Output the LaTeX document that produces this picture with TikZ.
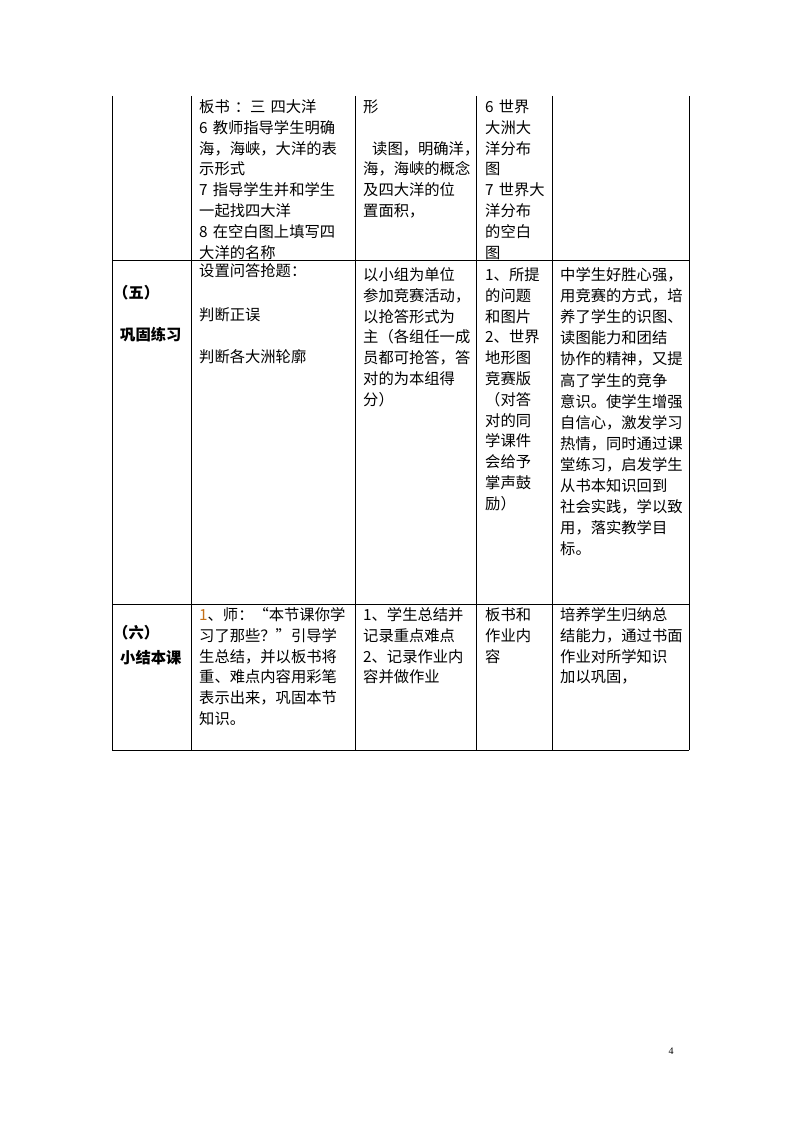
\documentclass[tikz,border=0pt]{standalone}
\usepackage{fontspec}
\setmainfont{Noto Sans CJK SC}
\newfontfamily\pagefont{Liberation Serif}
\definecolor{numone}{RGB}{196,112,24}

\begin{document}
\begin{tikzpicture}[x=1pt, y=-1pt]
\tikzset{cell/.style = {anchor=base west, inner sep=0pt, text width=#1, align=left, font=\fontsize{15.3}{20.8}\selectfont}}
\tikzset{head/.style = {anchor=base west, inner sep=0pt, font=\fontsize{15.3}{20.8}\selectfont\bfseries}}
\tikzset{rule/.style = {black, line width=1pt}}
\useasboundingbox (0,0) rectangle (794,1123);

% the table lines
\foreach \x in {112,191,355,476,552,689}
  \draw[rule] (\x,96) -- (\x,750);
\foreach \y in {260,604,750}
  \draw[rule] (112,\y) -- (689,\y);

% row carried over from the last page
\node[cell=150pt] (rA2) at (199,112.5) {板书 ：三 四大洋\\6 教师指导学生明确\\海，海峡，大洋的表\\示形式\\7 指导学生并和学生\\一起找四大洋\\8 在空白图上填写四\\大洋的名称};
\node[cell=110pt] (rA3) at (363,112.5) {形\\ \mbox{}\\\hspace*{9pt}读图，明确洋，\\海，海峡的概念\\及四大洋的位\\置面积，};
\node[cell=70pt] (rA4) at (485,112.5) {6 世界\\大洲大\\洋分布\\图\\7 世界大\\洋分布\\的空白\\图};

% (five)
\node[head] (rB1a) at (113,298.5) {（五）};
\node[head] (rB1b) at (120,340.5) {巩固练习};
\node[cell=150pt] (rB2a) at (199,276.5) {设置问答抢题：};
\node[cell=150pt] (rB2b) at (199,320.5) {判断正误};
\node[cell=150pt] (rB2c) at (199,362.5) {判断各大洲轮廓};
\node[cell=110pt] (rB3) at (363,280.5) {以小组为单位\\参加竞赛活动，\\以抢答形式为\\主（各组任一成\\员都可抢答，答\\对的为本组得\\分）};
\node[cell=70pt] (rB4) at (485,280.5) {1、所提\\的问题\\和图片\\2、世界\\地形图\\竞赛版\\（对答\\对的同\\学课件\\会给予\\掌声鼓\\励）};
\node[cell=128pt, font=\fontsize{15.3}{21.1}\selectfont] (rB5) at (560,280.5) {中学生好胜心强，\\用竞赛的方式，培\\养了学生的识图、\\读图能力和团结\\协作的精神，又提\\高了学生的竞争\\意识。使学生增强\\自信心，激发学习\\热情，同时通过课\\堂练习，启发学生\\从书本知识回到\\社会实践，学以致\\用，落实教学目\\标。};

% (six)
\node[head] (rC1a) at (113,638.5) {（六）};
\node[head] (rC1b) at (120,663.5) {小结本课};
\node[cell=150pt] (rC2) at (199,620.5) {{\color{numone}1}、师：“本节课你学\\习了那些？”引导学\\生总结，并以板书将\\重、难点内容用彩笔\\表示出来，巩固本节\\知识。};
\node[cell=110pt] (rC3) at (363,620.5) {1、学生总结并\\记录重点难点\\2、记录作业内\\容并做作业};
\node[cell=70pt] (rC4) at (485,620.5) {板书和\\作业内\\容};
\node[cell=128pt] (rC5) at (560,620.5) {培养学生归纳总\\结能力，通过书面\\作业对所学知识\\加以巩固，};

% page number
\node[anchor=base, inner sep=0pt, font=\pagefont\fontsize{10}{12}\selectfont] (pnum) at (671,1054) {4};
\end{tikzpicture}
\end{document}
